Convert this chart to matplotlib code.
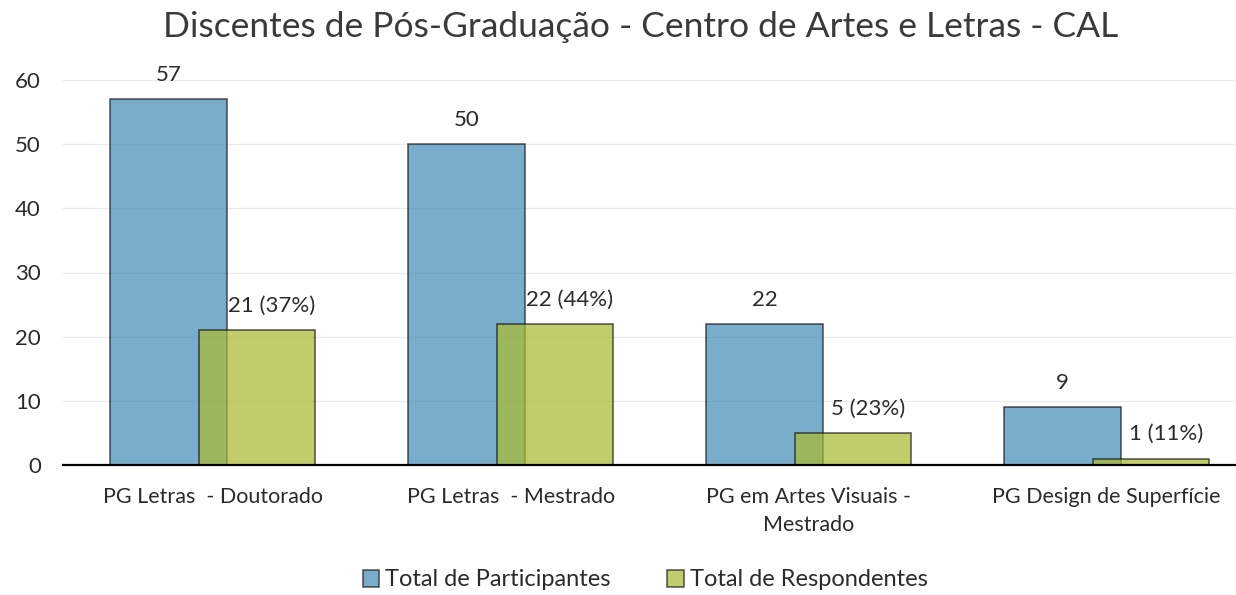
import matplotlib
matplotlib.use('Agg')
import matplotlib.pyplot as plt
import numpy as np

plt.rcParams['font.family'] = ['Lato', 'DejaVu Sans']

# data
categories = ['PG Letras  - Doutorado', 'PG Letras  - Mestrado',
              'PG em Artes Visuais -\nMestrado', 'PG Design de Superfície']
participantes = [57, 50, 22, 9]
respondentes = [21, 22, 5, 1]
resp_labels = ['21 (37%)', '22 (44%)', '5 (23%)', '1 (11%)']

blue = '#478CB7'
green = '#AABA31'
text_col = '#2b2b2b'

fig = plt.figure(figsize=(12.36, 5.95), dpi=100)
ax = fig.add_axes([63 / 1236, 1 - 465 / 595, 1 - 63 / 1236, (465 - 80) / 595])

x = np.arange(len(categories))
w = 0.39
off = 0.148

ax.bar(x - off, participantes, w, color=blue, alpha=0.72,
       edgecolor='#111111', linewidth=1.1, zorder=2, label='Total de Participantes')
ax.bar(x + off, respondentes, w, color=green, alpha=0.72,
       edgecolor='#111111', linewidth=1.1, zorder=3, label='Total de Respondentes')

for xi, v in zip(x, participantes):
    ax.annotate(str(v), (xi - off, v), xytext=(0, 17.5), textcoords='offset points',
                ha='center', va='center', fontsize=16, color=text_col)
for xi, v, lab in zip(x, respondentes, resp_labels):
    ax.annotate(lab, (xi + off, v), xytext=(11, 17.5), textcoords='offset points',
                ha='center', va='center', fontsize=16, color=text_col)

ax.set_xlim(-0.5017, 3.434)
ax.set_ylim(0, 60)
ax.set_yticks(range(0, 61, 10))
ax.set_xticks(x)
ax.set_xticklabels(categories, linespacing=1.5)
ax.grid(axis='y', color='#EBEBEB', linewidth=1.0, zorder=0)
ax.set_axisbelow(True)

for s in ['top', 'right', 'left']:
    ax.spines[s].set_visible(False)
ax.spines['bottom'].set_color('black')
ax.spines['bottom'].set_linewidth(1.6)
ax.spines['bottom'].set_zorder(5)

ax.tick_params(axis='y', length=0, pad=16, labelsize=16, labelcolor=text_col)
ax.tick_params(axis='x', length=0, pad=16, labelsize=15.5, labelcolor=text_col)

fig.text(641 / 1236, 1 - 27 / 595, 'Discentes de Pós-Graduação - Centro de Artes e Letras - CAL',
         ha='center', va='center', fontsize=25.5, color='#3a3a3a')

handles, labels = ax.get_legend_handles_labels()
fig.legend(handles, labels, loc='center', bbox_to_anchor=(645 / 1236, 1 - 580 / 595),
           ncol=2, frameon=False, fontsize=17, handlelength=0.7, handleheight=0.7,
           handletextpad=0.25, columnspacing=2.4, labelcolor=text_col)

fig.savefig('out.png', dpi=100)
